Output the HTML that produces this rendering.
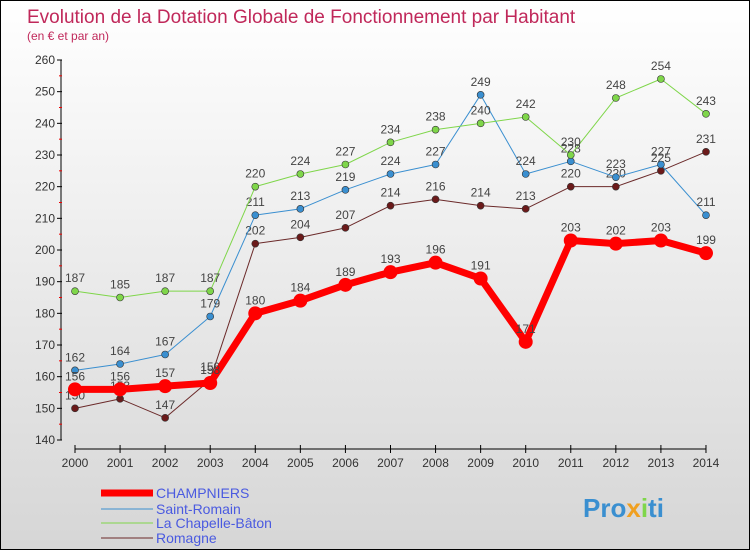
<!DOCTYPE html>
<html><head><meta charset="utf-8">
<style>
html,body{margin:0;padding:0}
body{width:750px;height:550px;overflow:hidden;font-family:"Liberation Sans",sans-serif}
#wrap{position:relative;width:748px;height:548px;border:1px solid #000;background:linear-gradient(#ffffff,#d6d6d6)}
svg{position:absolute;left:0;top:0}
</style></head><body>
<div id="wrap">
<svg id="c" width="748" height="548"></svg>
</div>
<script>
const years=[2000,2001,2002,2003,2004,2005,2006,2007,2008,2009,2010,2011,2012,2013,2014];
const champnier=[156,156,157,158,180,184,189,193,196,191,171,203,202,203,199];
const saintRomain=[162,164,167,179,211,213,219,224,227,249,224,228,223,227,211];
const chapelle=[187,185,187,187,220,224,227,234,238,240,242,230,248,254,243];
const romagne=[150,153,147,159,202,204,207,214,216,214,213,220,220,225,231];
const yTicks=[140,150,160,170,180,190,200,210,220,230,240,250,260];
const seriesNames=["CHAMPNIERS","Saint-Romain","La Chapelle-Bâton","Romagne"];

const NS="http://www.w3.org/2000/svg";
const svg=document.getElementById('c');
function X(i){return 74+i*45.07;}
function Y(v){return 439-(v-140)*3.1667;}
function el(t,a,txt){const e=document.createElementNS(NS,t);for(const k in a)e.setAttribute(k,a[k]);if(txt!==undefined)e.textContent=txt;svg.appendChild(e);return e;}

let t=el('text',{x:26,y:22,fill:'#c0285a','font-size':19},'Evolution de la Dotation Globale de Fonctionnement par Habitant');

t=el('text',{x:26,y:39,fill:'#c0285a','font-size':12},'(en € et par an)');


// axes
let a=el('line',{x1:60,y1:59,x2:60,y2:439,stroke:'#000','stroke-width':1});

a=el('line',{x1:74,y1:448,x2:X(14),y2:448,stroke:'#000','stroke-width':1});

yTicks.forEach((v,i)=>{
  const tk=el('line',{x1:56,y1:Y(v),x2:61,y2:Y(v),stroke:'#000'});
  
  if(i<yTicks.length-1){const m=el('line',{x1:58,y1:Y(v+5),x2:61,y2:Y(v+5),stroke:'#e00'});
  }
  const l=el('text',{x:54,y:Y(v)+4,'text-anchor':'end','font-size':12,fill:'#333'},v);
  
});
years.forEach((y,i)=>{
  const tk=el('line',{x1:X(i),y1:444,x2:X(i),y2:452,stroke:'#000'});
  
  const l=el('text',{x:X(i),y:466,'text-anchor':'middle','font-size':12,fill:'#333'},y);
  
});

function series(data,color,w,r,dot,name){
  const p=el('polyline',{points:data.map((v,i)=>X(i)+','+Y(v)).join(' '),fill:'none',stroke:color,'stroke-width':w,'stroke-linejoin':'round'});
  
  data.forEach((v,i)=>{
    const c=el('circle',{cx:X(i),cy:Y(v),r:r,fill:dot,stroke:'#333','stroke-width':r>4?0:0.6});
    
    const l=el('text',{x:X(i),y:Y(v)-9,'text-anchor':'middle','font-size':12,fill:'#444'},v);
    
  });
}
series(romagne,'#6b2a2a',1,3.5,'#6b1a1a','romagne');
series(saintRomain,'#3a8fd0',1,3.5,'#3a8fd0','saint-romain');
series(chapelle,'#7fd64a',1,3.5,'#7fd64a','la-chapelle-baton');
series(champnier,'#ff0000',7,7,'#ff0000','champniers');

// legend
const lc=['#ff0000','#3a8fd0','#7fd64a','#6b2a2a'],lw=[7,1,1,1],ly=[492,508,522,537];
seriesNames.forEach((n,i)=>{
  const l=el('line',{x1:100,y1:ly[i],x2:152,y2:ly[i],stroke:lc[i],'stroke-width':lw[i]});
  
  const tx=el('text',{x:155,y:ly[i]+5,'font-size':14,fill:'#4a5ae0'},n);
  
});
const logo=el('text',{x:582,y:516,'font-size':26,'font-weight':'bold',fill:'#3a8fd0'},'');

[['Pro','#3a8fd0'],['x','#f0a020'],['i','#7fd64a'],['ti','#3a8fd0']].forEach(s=>{
  const sp=document.createElementNS(NS,'tspan');sp.setAttribute('fill',s[1]);sp.textContent=s[0];logo.appendChild(sp);
});
</script>
</body></html>
